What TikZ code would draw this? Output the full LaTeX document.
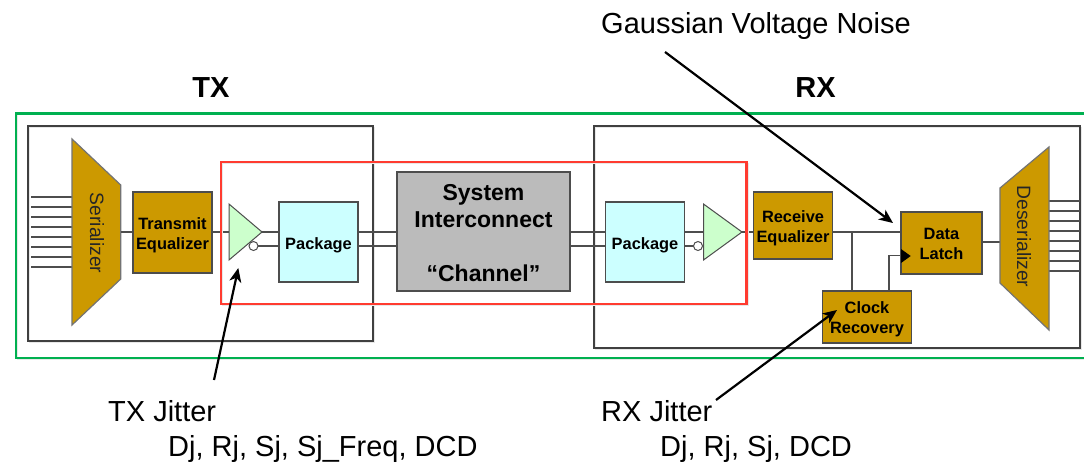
\documentclass[tikz,border=0pt]{standalone}
\usepackage{fontspec}
\setmainfont{Liberation Sans}
\usetikzlibrary{arrows.meta}
\definecolor{gold}{HTML}{CC9900}
\definecolor{pkgc}{HTML}{CCFFFF}
\definecolor{trig}{HTML}{CCFFCC}
\definecolor{chanc}{HTML}{BBBBBB}
\definecolor{ln}{HTML}{4D4D4D}
\definecolor{grn}{HTML}{00B050}
\definecolor{redb}{HTML}{FF3B30}
\tikzset{
 x=1pt,y=-1pt,
 wire/.style={draw=ln,line width=1.25pt},
 frame/.style={draw=black!75,line width=1.1pt},
 shade1/.style={draw=black!9,line width=1.6pt},
 boxtext/.style={inner sep=0pt,align=center,font=\fontsize{16.4}{20}\selectfont\bfseries},
 chantext/.style={inner sep=0pt,align=center,font=\fontsize{23}{27}\selectfont\bfseries},
 goldbox/.style={draw=black!70,line width=1.2pt,fill=gold,inner sep=0pt},
 pkgbox/.style={draw=ln,line width=1.2pt,fill=pkgc,inner sep=0pt,minimum width=79pt,minimum height=80pt},
 chanbox/.style={draw=ln,line width=1.2pt,fill=chanc,inner sep=0pt,minimum width=173pt,minimum height=119pt},
 mux/.style={draw=black!55,line width=1.2pt,fill=gold},
 amp/.style={draw=ln,line width=1pt,fill=trig},
 bub/.style={circle,draw=ln,line width=1pt,fill=white,inner sep=0pt,minimum size=9pt},
 muxtext/.style={inner sep=0pt,font=\fontsize{19.3}{22}\selectfont,rotate=-90,text=black!85},
 big/.style={inner sep=0pt,anchor=base west,font=\fontsize{29}{32}\selectfont},
 head/.style={inner sep=0pt,anchor=base,font=\fontsize{29}{32}\selectfont\bfseries},
 callout/.style={line width=2.2pt,-{Stealth[length=14pt,width=12pt,inset=4pt]}},
}
\begin{document}
\begin{tikzpicture}
\useasboundingbox (0,0) rectangle (1084,464);
\fill[white] (0,0) rectangle (1084,464);
% helper rows
\coordinate (y1) at (0,232);
\coordinate (y2) at (0,246);
% frames
\draw[shade1] (29.5,127.5) rectangle (374.5,342.5);
\draw[shade1] (595.5,127.5) rectangle (1081.5,349.5);
\draw[frame] (28,126) rectangle (373,341);
\draw[frame] (594,126) rectangle (1080,348);
% serializer
\coordinate (serin) at (72,232);
\coordinate (serout) at (120.7,232);
\foreach \yy in {197,207,217,227,237,247,257,267}
  \draw[wire] (31,\yy) -- (72,\yy);
\draw[mux] (72,139) -- (120.7,185) -- (120.7,279) -- (72,325) -- cycle;
\node[muxtext] (serl) at (97,233) {Serializer};
% boxes
\node[goldbox,minimum width=79pt,minimum height=81pt] (txeq) at (172.5,232.5) {};
\node[pkgbox] (txpkg) at (318.5,242) {};
\node[chanbox] (chan) at (483.5,231.5) {};
\node[pkgbox] (rxpkg) at (645,242) {};
\node[goldbox,minimum width=79pt,minimum height=67pt] (rxeq) at (793,225.5) {};
\node[goldbox,minimum width=81pt,minimum height=62pt] (latch) at (941.5,243) {};
\node[goldbox,minimum width=89pt,minimum height=52pt] (cdr) at (867,317) {};
\node[boxtext] (txeql) at (172.5,235) {Transmit\\Equalizer};
\node[boxtext] (txpkgl) at (318.5,245) {Package};
\node[chantext] (chanl) at (483.5,233) {System\\Interconnect\\[27pt]“Channel”};
\node[boxtext] (rxpkgl) at (645,245) {Package};
\node[boxtext] (rxeql) at (793,228) {Receive\\Equalizer};
\node[boxtext] (latchl) at (941.5,244) {Data\\Latch};
\node[boxtext] (cdrl) at (867,319) {Clock\\Recovery};
% amplifiers
\coordinate (txtip) at (262,232);
\coordinate (txin) at (229,232);
\coordinate (rxtip) at (742,232);
\coordinate (rxin) at (703.5,232);
\draw[wire] (serout) -- (txeq.west |- y1);
\draw[wire] (txeq.east |- y1) -- (txin);
\draw[wire] (txtip) -- (txpkg.west |- y1);
\draw[wire] (txpkg.west |- y2) -- (250,246);
\draw[wire] (txpkg.east |- y1) -- (chan.west |- y1);
\draw[wire] (txpkg.east |- y2) -- (chan.west |- y2);
\draw[wire] (chan.east |- y1) -- (rxpkg.west |- y1);
\draw[wire] (chan.east |- y2) -- (rxpkg.west |- y2);
\draw[wire] (rxpkg.east |- y1) -- (rxin);
\draw[wire] (rxpkg.east |- y2) -- (700,246);
\draw[wire] (rxtip) -- (rxeq.west |- y1);
\draw[amp] (229,204) -- (txtip) -- (229,260) -- cycle;
\draw[amp] (703.5,204) -- (rxtip) -- (703.5,260) -- cycle;
\node[bub] (txbub) at (253.5,246) {};
\node[bub] (rxbub) at (698,246) {};
% receiver wires
\coordinate (branch) at (852,232);
\draw[wire] (rxeq.east |- y1) -- (latch.west |- y1);
\draw[wire] (branch) -- (branch |- cdr.north);
\coordinate (cdrout) at (889,291);
\coordinate (clkin) at (901,255.7);
\draw[wire] (cdrout) |- (clkin);
\fill[black] (901,249) -- (910.7,256) -- (901,263) -- cycle;
% deserializer
\coordinate (desin) at (1000,242);
\draw[wire] (latch.east |- desin) -- (desin);
\foreach \yy in {201,211,221,231,241,251,261,271}
  \draw[wire] (1049,\yy) -- (1080,\yy);
\draw[mux] (1000,188) -- (1049,147) -- (1049,330) -- (1000,283) -- cycle;
\node[muxtext] (desl) at (1024,236.5) {Deserializer};
% group rectangles
\draw[shade1] (222.5,163.5) rectangle (748.2,305.5);
\draw[redb,line width=2.8pt] (221,162) rectangle (746.7,304);
\draw[shade1] (1084,359.5) -- (17.5,359.5) -- (17.5,115);
\draw[grn,line width=2.8pt] (1084,113.7) -- (16,113.7) -- (16,358) -- (1084,358);
% labels
\node[head] (txh) at (211,97.5) {TX};
\node[head] (rxh) at (815.5,97.5) {RX};
\node[big] (gn) at (601,33.5) {Gaussian Voltage Noise};
\node[big] (tj) at (108,421.5) {TX Jitter};
\node[big] (tjd) at (168,456.5) {Dj, Rj, Sj, Sj\_Freq, DCD};
\node[big] (rj) at (601,421.5) {RX Jitter};
\node[big] (rjd) at (660,456.5) {Dj, Rj, Sj, DCD};
% callouts
\coordinate (gs) at (665,52);
\coordinate (gt) at (893,223);
\coordinate (ts) at (214,380);
\coordinate (tt) at (238.3,268);
\coordinate (rs) at (716,400);
\coordinate (rt) at (837,310);
\draw[callout] (gs) -- (gt);
\draw[callout] (ts) -- (tt);
\draw[callout] (rs) -- (rt);
\end{tikzpicture}
\end{document}
